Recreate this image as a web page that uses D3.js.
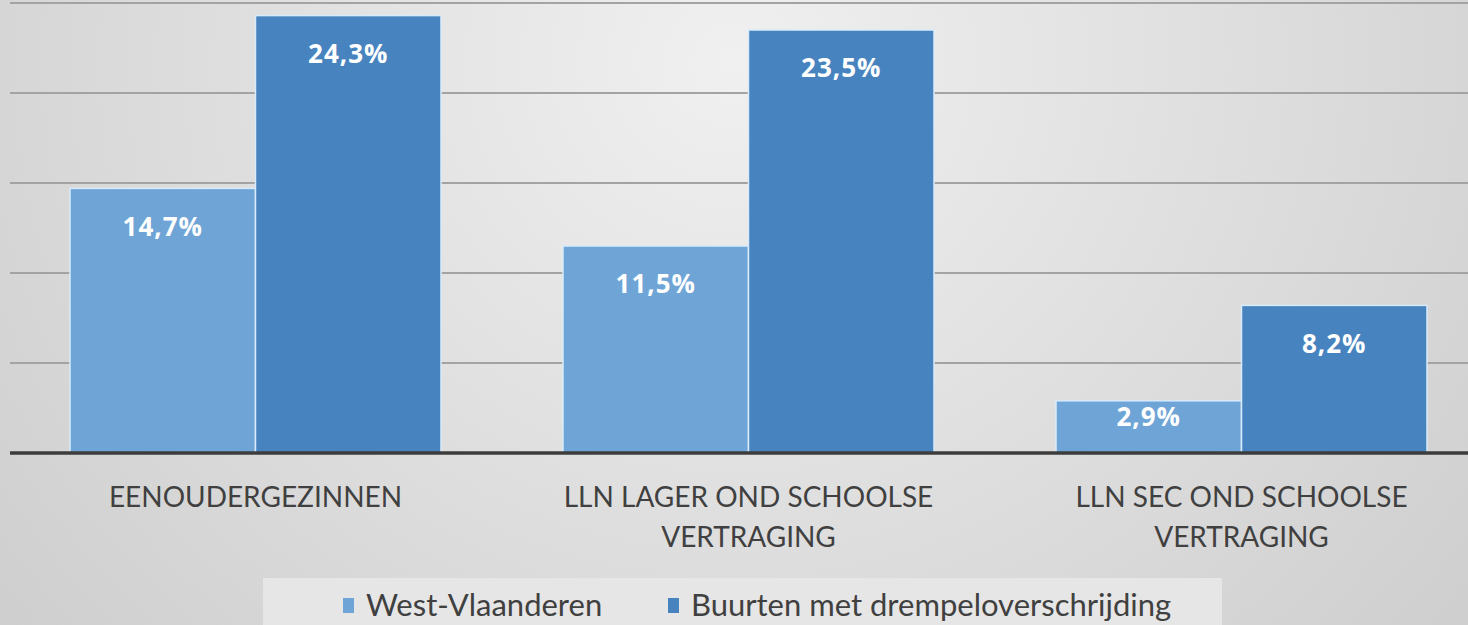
<!DOCTYPE html>
<html>
<head>
<meta charset="utf-8">
<script src="https://cdn.jsdelivr.net/npm/d3@7"></script>
<style>
  html, body { margin: 0; padding: 0; overflow: hidden; }
  .cat-label { font-family: Lato, "Open Sans", sans-serif; font-size: 28px; fill: #404040; }
  .val-label { font-family: "Open Sans", Lato, sans-serif; font-size: 26px; font-weight: bold; fill: #ffffff; letter-spacing: 1px; }
  .legend-text { font-family: Lato, "Open Sans", sans-serif; font-size: 31px; fill: #404040; }
</style>
</head>
<body>
<div class="chart"></div>
<script>
// Data
var categories = ["EENOUDERGEZINNEN", "LLN LAGER OND SCHOOLSE VERTRAGING", "LLN SEC OND SCHOOLSE VERTRAGING"];
var categoryLines = [["EENOUDERGEZINNEN"], ["LLN LAGER OND SCHOOLSE", "VERTRAGING"], ["LLN SEC OND SCHOOLSE", "VERTRAGING"]];
var seriesNames = ["West-Vlaanderen", "Buurten met drempeloverschrijding"];
var westVlaanderen = [14.7, 11.5, 2.9];
var buurten = [24.3, 23.5, 8.2];
var gridTicks = [0, 5, 10, 15, 20, 25];
var colors = ["#6fa4d6", "#4783bf"];

var svgWidth = 1468;
var svgHeight = 625;
var margin = { top: 3, right: 0, bottom: 172, left: 10 };
var width = svgWidth - margin.left - margin.right;
var height = svgHeight - margin.top - margin.bottom;

var svg = d3.select(".chart")
    .append("svg")
    .attr("width", svgWidth)
    .attr("height", svgHeight);

// background gradient
var defs = svg.append("defs");
var grad = defs.append("radialGradient")
    .attr("id", "bg")
    .attr("cx", "50%").attr("cy", "10%")
    .attr("r", "75%")
    .attr("gradientTransform", "translate(0.5,0.1) scale(1,2.2) translate(-0.5,-0.1)");
grad.append("stop").attr("offset", "0%").attr("stop-color", "#f0f0f0");
grad.append("stop").attr("offset", "100%").attr("stop-color", "#c9c9c9");

svg.append("rect")
    .attr("width", svgWidth)
    .attr("height", svgHeight)
    .attr("fill", "url(#bg)");

var chart = svg.append("g")
    .attr("transform", "translate(" + margin.left + "," + margin.top + ")");

// scales
var yScale = d3.scaleLinear().domain([0, 25]).range([height, 0]);
var x0 = d3.scaleBand().domain(categories).range([60, 1417]).paddingInner(0.2475).paddingOuter(0);
var x1 = d3.scaleBand().domain(seriesNames).range([0, x0.bandwidth()]).padding(0);

// gridlines
chart.append("g")
    .selectAll("line")
    .data(gridTicks.slice(1))
    .enter()
    .append("line")
    .attr("x1", 0)
    .attr("x2", width)
    .attr("y1", function (d) { return yScale(d); })
    .attr("y2", function (d) { return yScale(d); })
    .attr("stroke", "#a3a3a3")
    .attr("stroke-width", 2);

// bars
var rows = categories.map(function (c, i) {
    return { cat: c, values: [
        { name: seriesNames[0], value: westVlaanderen[i], color: colors[0] },
        { name: seriesNames[1], value: buurten[i], color: colors[1] }
    ] };
});

var groups = chart.selectAll(".group")
    .data(rows)
    .enter()
    .append("g")
    .attr("class", "group")
    .attr("transform", function (d) { return "translate(" + x0(d.cat) + ",0)"; });

groups.selectAll("rect")
    .data(function (d) { return d.values; })
    .enter()
    .append("rect")
    .attr("x", function (d) { return x1(d.name); })
    .attr("y", function (d) { return yScale(d.value); })
    .attr("width", x1.bandwidth())
    .attr("height", function (d) { return height - yScale(d.value); })
    .attr("fill", function (d) { return d.color; })
    .attr("stroke", "#d8ebfa")
    .attr("stroke-width", 1.5);

// inside-end labels, pulled up on short bars
groups.selectAll(".val-label")
    .data(function (d) { return d.values; })
    .enter()
    .append("text")
    .attr("class", "val-label")
    .attr("x", function (d) { return x1(d.name) + x1.bandwidth() / 2; })
    .attr("y", function (d) {
        var barH = height - yScale(d.value);
        return yScale(d.value) + Math.min(38, barH * 0.31);
    })
    .attr("dy", "0.35em")
    .attr("text-anchor", "middle")
    .text(function (d) { return d.value.toFixed(1).replace(".", ",") + "%"; });

// baseline
chart.append("line")
    .attr("x1", 0)
    .attr("x2", width)
    .attr("y1", height)
    .attr("y2", height)
    .attr("stroke", "#3c3c3c")
    .attr("stroke-width", 3.5);

// category labels
chart.selectAll(".cat-label")
    .data(categories)
    .enter()
    .append("text")
    .attr("class", "cat-label")
    .attr("text-anchor", "middle")
    .attr("transform", function (d) { return "translate(" + (x0(d) + x0.bandwidth() / 2) + "," + (height + 54) + ")"; })
    .each(function (d, i) {
        var t = d3.select(this);
        categoryLines[i].forEach(function (line, j) {
            t.append("tspan").attr("x", 0).attr("y", j * 40).text(line);
        });
    });

// legend
var legend = svg.append("g").attr("transform", "translate(263,578)");
legend.append("rect")
    .attr("width", 959)
    .attr("height", 60)
    .attr("fill", "#e6e6e6");

var legendX = [80, 405];
seriesNames.forEach(function (name, i) {
    var item = legend.append("g").attr("transform", "translate(" + legendX[i] + ",0)");
    item.append("rect")
        .attr("x", 0)
        .attr("y", 20)
        .attr("width", 11)
        .attr("height", 15)
        .attr("fill", colors[i]);
    item.append("text")
        .attr("class", "legend-text")
        .attr("x", 23)
        .attr("y", 27)
        .attr("dy", "0.35em")
        .text(name);
});
</script>
</body>
</html>
